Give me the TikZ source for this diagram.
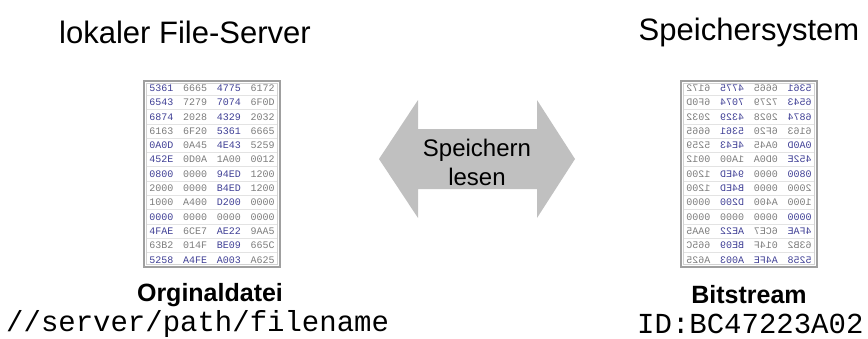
\documentclass[tikz,border=0pt]{standalone}
\usepackage{fontspec}
\setmainfont{Liberation Sans}
\newfontfamily\monof{Liberation Mono}
\definecolor{hb}{RGB}{64,64,150}
\definecolor{hg}{RGB}{125,125,125}
\definecolor{arrowgray}{RGB}{192,192,192}
\def\hexrows{%
{hb/5361,hg/6665,hb/4775,hg/6172},%
{hb/6543,hg/7279,hb/7074,hg/6F0D},%
{hb/6874,hg/2028,hb/4329,hg/2032},%
{hg/6163,hg/6F20,hb/5361,hg/6665},%
{hb/0A0D,hg/0A45,hb/4E43,hg/5259},%
{hb/452E,hg/0D0A,hg/1A00,hg/0012},%
{hb/0800,hg/0000,hb/94ED,hg/1200},%
{hg/2000,hg/0000,hb/B4ED,hg/1200},%
{hg/1000,hg/A400,hb/D200,hg/0000},%
{hb/0000,hg/0000,hg/0000,hg/0000},%
{hb/4FAE,hg/6CE7,hb/AE22,hg/9AA5},%
{hg/63B2,hg/014F,hb/BE09,hg/665C},%
{hb/5258,hb/A4FE,hb/A003,hg/A625}}
\newcommand\hextab[2]{%
\begin{scope}[#2]
  \fill[white] (0,0) rectangle (136,186);
  \foreach \row [count=\r] in \hexrows {
    \foreach \cl/\tx [count=\c] in \row {
      \node[cell, text=\cl] (#1-\r-\c) at ({17.5+(\c-1)*33.7}, {7.15+(\r-1)*14.3}) {\tx};
    }
  }
  \foreach \k in {1,...,12} \draw[sepline] (2,{\k*14.3}) -- (134,{\k*14.3});
  \draw[frameinner] (2.2,2.2) rectangle (133.8,183.8);
  \draw[frameouter] (0,0) rectangle (136,186);
\end{scope}}
\tikzset{
  cell/.style={inner sep=0pt, font=\monof\fontsize{10}{10}\selectfont},
  sepline/.style={draw=gray!22, line width=0.7pt},
  frameinner/.style={draw=gray!35, line width=0.8pt},
  frameouter/.style={draw=gray!75, line width=1.6pt},
  title/.style={inner sep=0pt, font=\fontsize{31}{36}\selectfont},
  caption/.style={inner sep=0pt, font=\bfseries\fontsize{25}{30}\selectfont},
  pathtext/.style={inner sep=0pt, anchor=west, font=\monof\fontsize{29}{32}\selectfont},
  arrowtext/.style={inner sep=0pt, align=center, font=\fontsize{24}{29}\selectfont},
  bigarrow/.style={fill=arrowgray}
}
\begin{document}
\begin{tikzpicture}[x=1pt,y=-1pt]
\useasboundingbox (0,0) rectangle (868,338);
% titles
\node[title] (tl) at (185,32) {lokaler File-Server};
\node[title] (tr) at (749,32) {Speichersystem};
% tables
\hextab{L}{shift={(144,81)}}
\hextab{R}{shift={(817,81)}, xscale=-1, transform shape}
% captions
\node[caption] (capl) at (210,295) {Orginaldatei};
\node[caption] (capr) at (749,295) {Bitstream};
\node[pathtext] (pl) at (6,324) {//server/path/filename};
\node[pathtext] (pr) at (637,324) {ID:BC47223A02};
% double arrow
\fill[bigarrow] (379,159) -- (418,100) -- (418,129) -- (537,129) -- (537,100)
  -- (575,159) -- (537,218) -- (537,189) -- (418,189) -- (418,218) -- cycle;
\node[arrowtext] (at) at (477,162) {Speichern\\lesen};
\end{tikzpicture}
\end{document}
